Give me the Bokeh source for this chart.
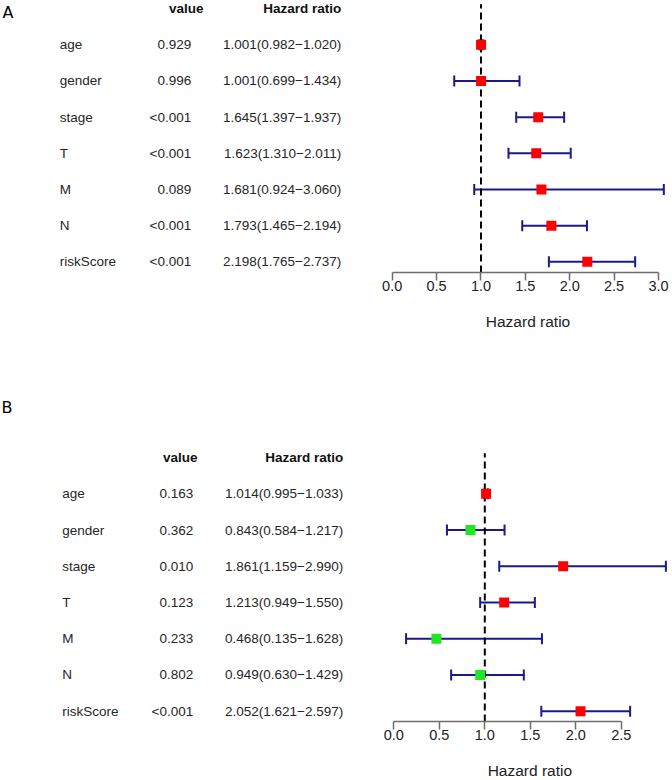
from bokeh.plotting import figure
from bokeh.models import Range1d, LinearAxis, FixedTicker, NumeralTickFormatter, ColumnDataSource, Label
from bokeh.layouts import column
from bokeh.core.properties import value
from bokeh.embed import file_html
from bokeh.resources import INLINE

# ---------------- data ----------------
names = ["age", "gender", "stage", "T", "M", "N", "riskScore"]

A_pval = ["0.929", "0.996", "<0.001", "<0.001", "0.089", "<0.001", "<0.001"]
A_hr = [1.001, 1.001, 1.645, 1.623, 1.681, 1.793, 2.198]
A_lo = [0.982, 0.699, 1.397, 1.310, 0.924, 1.465, 1.765]
A_hi = [1.020, 1.434, 1.937, 2.011, 3.060, 2.194, 2.737]
A_ticks = [0.0, 0.5, 1.0, 1.5, 2.0, 2.5, 3.0]

B_pval = ["0.163", "0.362", "0.010", "0.123", "0.233", "0.802", "<0.001"]
B_hr = [1.014, 0.843, 1.861, 1.213, 0.468, 0.949, 2.052]
B_lo = [0.995, 0.584, 1.159, 0.949, 0.135, 0.630, 1.621]
B_hi = [1.033, 1.217, 2.990, 1.550, 1.628, 1.429, 2.597]
B_ticks = [0.0, 0.5, 1.0, 1.5, 2.0, 2.5]

FONT = "Liberation Sans"
W = 672
TXT = "#262626"
BLUE = "#1a1a8c"


def build(letter, pvals, hr, lo, hi, ticks, height, bottom, x0px, xscale,
          top_px, row_px, name_px, pval_px, phead_px, hr_px, letter_px, letter_py, xlab_y):
    n = len(names)
    frame_h = height - bottom
    xs = -x0px / xscale
    xe = (W - x0px) / xscale
    last_row_px = top_px + (n - 1) * row_px
    ys = 1 - (frame_h - last_row_px) / row_px
    ye = ys + frame_h / row_px

    def xd(px):
        return xs + px / W * (xe - xs)

    def yd(py):
        return ys + (frame_h - py) / row_px

    p = figure(width=W, height=height, x_range=Range1d(xs, xe), y_range=Range1d(ys, ye),
               x_axis_location=None, y_axis_location=None, toolbar_location=None,
               output_backend="svg", min_border=0, min_border_bottom=bottom,
               outline_line_color=None, background_fill_color="white")
    p.grid.visible = False

    ypos = [n - i for i in range(n)]
    colors = ["#ff0000" if h > 1 else "#22e622" for h in hr]
    hr_txt = ["%.3f(%.3f\u2212%.3f)" % (h, l, u) for h, l, u in zip(hr, lo, hi)]
    src = ColumnDataSource(dict(y=ypos, hr=hr, lo=lo, hi=hi, c=colors, name=names,
                                pv=pvals, hrt=hr_txt))

    # text table
    p.text(x=xd(name_px), y="y", text="name", source=src, text_font=value(FONT),
           text_font_size="13.5px", text_color=TXT, text_baseline="middle", text_align="left")
    p.text(x=xd(pval_px), y="y", text="pv", source=src, text_font=value(FONT),
           text_font_size="13.5px", text_color=TXT, text_baseline="middle", text_align="right")
    p.text(x=xd(hr_px), y="y", text="hrt", source=src, text_font=value(FONT),
           text_font_size="13.5px", text_color=TXT, text_baseline="middle", text_align="right")
    hy = n + 1
    p.text(x=[xd(phead_px)], y=[hy], text=["value"], text_font=value(FONT), text_font_style="bold",
           text_font_size="13.5px", text_color="#111111", text_baseline="middle", text_align="right")
    p.text(x=[xd(hr_px)], y=[hy], text=["Hazard ratio"], text_font=value(FONT), text_font_style="bold",
           text_font_size="13.5px", text_color="#111111", text_baseline="middle", text_align="right")
    p.text(x=[xd(letter_px)], y=[yd(letter_py)], text=[letter], text_font=value("DejaVu Sans"),
           text_font_size="16px", text_color="black", text_baseline="middle", text_align="left")

    # confidence intervals with end caps
    p.segment(x0="lo", x1="hi", y0="y", y1="y", source=src, line_color=BLUE, line_width=2)
    p.scatter(x="lo", y="y", source=src, marker="dash", angle=1.5708, size=11,
              line_color=BLUE, line_width=2)
    p.scatter(x="hi", y="y", source=src, marker="dash", angle=1.5708, size=11,
              line_color=BLUE, line_width=2)
    # reference line at HR = 1
    p.segment(x0=[1], x1=[1], y0=[ys], y1=[hy + 0.12], line_color="black",
              line_width=2, line_dash="7 4")
    # hazard ratio points
    p.scatter(x="hr", y="y", source=src, marker="square", size=10, fill_color="c",
              line_color=None)

    ax = LinearAxis(bounds=(ticks[0], ticks[-1]), ticker=FixedTicker(ticks=ticks),
                    formatter=NumeralTickFormatter(format="0.0"))
    ax.axis_line_color = "#6e6e6e"
    ax.axis_line_width = 1.5
    ax.major_tick_line_color = "#6e6e6e"
    ax.major_tick_line_width = 1.5
    ax.major_tick_in = 0
    ax.major_tick_out = 8
    ax.minor_tick_line_color = None
    ax.major_label_standoff = 0
    ax.major_label_text_font = FONT
    ax.major_label_text_font_size = "14.5px"
    ax.major_label_text_color = "#222222"
    p.add_layout(ax, "below")

    # x-axis title centred on the plotted hazard-ratio span
    lab = Label(x=max(hi) / 2, y=xlab_y, x_units="data", y_units="screen", text="Hazard ratio",
                text_align="center", text_baseline="middle", text_font=FONT,
                text_font_size="15.5px", text_color="#222222")
    p.add_layout(lab, "below")
    return p


pA = build("A", A_pval, A_hr, A_lo, A_hi, A_ticks, height=390, bottom=118,
           x0px=391.7, xscale=88.77, top_px=44.3, row_px=36.17,
           name_px=59.3, pval_px=190.7, phead_px=203, hr_px=340.7,
           letter_px=2, letter_py=11.5, xlab_y=-11)
pB = build("B", B_pval, B_hr, B_lo, B_hi, B_ticks, height=390, bottom=59,
           x0px=393.3, xscale=91.0, top_px=103.3, row_px=36.23,
           name_px=61.7, pval_px=192.7, phead_px=197, hr_px=342.7,
           letter_px=1, letter_py=16.5, xlab_y=-11)

layout = column(pA, pB)
open("out.html", "w").write(file_html(layout, INLINE))
